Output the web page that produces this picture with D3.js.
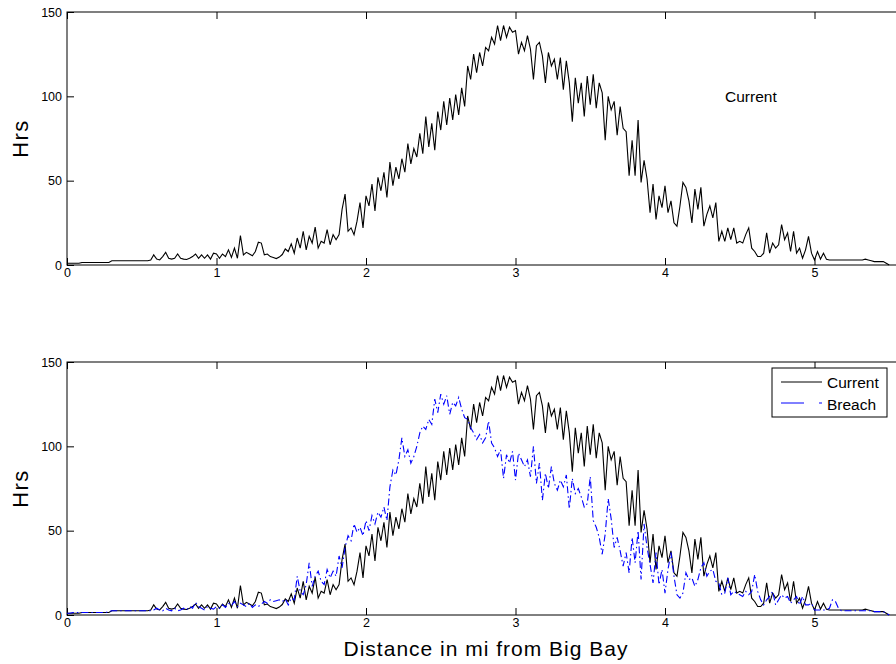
<!DOCTYPE html>
<html>
<head>
<meta charset="utf-8">
<script src="https://cdn.jsdelivr.net/npm/d3@7"></script>
<style>
  body { margin: 0; background: #fff; }
  svg { display: block; }
  text { font-family: "Liberation Sans", Arial, sans-serif; fill: #000; }
</style>
</head>
<body>
<svg id="screen" width="896" height="664"></svg>
<script>
const screenEl = document.querySelector("#screen");

//data: hours every 0.02 mi from 0 to 5.5
const step = 0.02;
const current = [
  1,1,1,1,1,1.5,1.5,1.5,1.5,1.5,
  1.5,1.5,1.5,1.5,1.5,2.5,2.5,2.5,2.5,2.5,
  2.5,2.5,2.5,2.5,2.5,2.5,2.5,2.5,3,6,
  3.5,3,5,7.5,4,3.5,4,6.5,4,3.5,
  3.3,4,5,6.5,4,6,4,6,3.5,7,
  6.5,4,6.5,5,9,4.5,10,4,17.5,6,
  7.5,6.5,5.5,8,13.5,13,6,6.5,5,4.5,
  3.8,4.7,6.2,9.5,8,12.5,7,16,10,20,
  9,17,13,22.5,10,14,13,21,12,18,
  15,18,33,42,20,22,18,26,37,22,
  41,35,48,32,52,44,55,40,61,47,
  58,51,63,55,72,60,69,64,78,66,
  88,70,84,68,91,80,97,83,99,86,
  101,89,105,94,118,110,125,114,126,118,
  129,127,135,131,142,133,142,135,141,138,
  139,125,132,127,136,128,110,130,132,124,
  108,126,118,122,110,123,104,121,108,85,
  111,96,108,88,112,95,113,93,108,102,
  74,100,92,97,77,94,81,79,53,74,
  53,86,49,62,51,31,48,27,41,34,
  47,31,38,25,23,35,49,46,38,25,
  45,33,46,23,30,35,28,37,14,20,
  14,22,15,22,13,14,13,18,22,10,
  8,5,5,7,19,7,13,10,12,24,
  15,19,8,20,7,10,4,9,17,7,
  3,8,3.5,7,3.4,3,3,3,3,3,
  3,3,3,3,3,3,3,3.5,3,2.5,
  2,2,2,2,1,0
];
const breach = [
  1,1,1.5,1.5,1.5,1.5,1.5,1.5,1.5,1.5,
  1.5,1.5,1.5,1.5,2,2.5,2.5,2.5,2.5,2.5,
  2.5,2.5,2.5,2.5,2.5,2.5,2.5,2.5,2.5,3,
  4,3,2.5,4,3,2.5,4,2.5,3,4,
  3,5,4,7.5,5,4,3,5,4,3.5,
  5,4,6,4.5,7,5.5,8,5,7,6,
  5,7,4.5,6,5,6.5,8,7,9,8,
  8.5,9,8,9.5,6,10,9,23,14,12,
  18,31,17,23,26,20,18,27,22,26,
  23,35,28,40,47,44,54,49,52,47,
  56,50,59,54,61,58,64,56,76,86,
  83,92,105,94,98,90,94,100,108,112,
  110,116,113,128,120,131,125,130,119,126,
  124,129,122,117,116,111,108,104,107,102,
  105,115,102,99,94,98,81,95,90,97,
  80,96,92,88,92,82,100,78,90,68,
  84,75,88,78,74,80,76,83,63,81,
  72,75,70,64,66,82,56,52,46,36,
  48,69,57,40,46,38,29,37,25,46,
  31,50,21,54,40,30,19,37,18,27,
  13,27,37,23,12,10,13,25,21,22,
  17,21,28,31,23,26,27,20,19,12,
  13,22,12,14,13,12,11,14,12,14,
  24,14,9,6,9,11,14,6,9,12,
  10,11,7,9,11,6,11,6,6,7,
  3,3,3,3,3,4,9,8,4,2.5,
  2.5,2.5,2.5,2.5,2.5,2.5,2.5,2.5,2.5,2.5,
  2,2,2,2,1,0
];
const xTicks = [0,1,2,3,4,5];
const yTicks = [0,50,100,150];
const seriesNames = ["Current","Breach"];

//settings
const left = 67, right = 67 + 5.6*149.5;
const panels = [[12,265],[362,615]];
const tickLen = 7;

var x = d3.scaleLinear().domain([0,5.6]).range([left,right]);
var svg = d3.select(screenEl);

function drawPanel(top, bottom){
    var y = d3.scaleLinear().domain([0,150]).range([bottom,top]);
    var g = svg.append("g");

    g.append("g").attr("transform","translate(0,"+bottom+")")
    .call(d3.axisBottom(x).tickValues(xTicks).tickSizeInner(-tickLen).tickSizeOuter(0).tickPadding(3).tickFormat(d3.format("d")));
    g.append("g").attr("transform","translate(0,"+top+")")
    .call(d3.axisTop(x).tickValues(xTicks).tickSizeInner(-tickLen).tickSizeOuter(0).tickFormat(""));
    g.append("g").attr("transform","translate("+left+",0)")
    .call(d3.axisLeft(y).tickValues(yTicks).tickSizeInner(-tickLen).tickSizeOuter(0).tickPadding(5));

    g.selectAll(".domain").remove();
    g.selectAll(".tick line").attr("stroke","#000");
    g.selectAll(".tick text").attr("font-size",12.5).attr("font-family","Liberation Sans, Arial, sans-serif");

    g.append("rect").attr("x",left).attr("y",top)
    .attr("width",right-left).attr("height",bottom-top)
    .attr("fill","none").attr("stroke","#000").attr("stroke-width",1);

    g.append("text").attr("transform","translate(28,"+((top+bottom)/2)+") rotate(-90)")
    .attr("text-anchor","middle").attr("font-size",22).attr("letter-spacing",1.5).text("Hrs");

    return {g:g, y:y};
}

function line(y){
    return d3.line().x((d,i)=>x(i*step)).y(d=>y(d));
}

//Top panel
var p1 = drawPanel(panels[0][0],panels[0][1]);
p1.g.append("path").datum(current).attr("d",line(p1.y))
.attr("fill","none").attr("stroke","#000").attr("stroke-width",1.1);
p1.g.append("text").attr("x",725).attr("y",102).attr("font-size",15.5).text(seriesNames[0]);

//Bottom panel
var p2 = drawPanel(panels[1][0],panels[1][1]);
p2.g.append("path").datum(current).attr("d",line(p2.y))
.attr("fill","none").attr("stroke","#000").attr("stroke-width",1.1);
p2.g.append("path").datum(breach).attr("d",line(p2.y))
.attr("fill","none").attr("stroke","#0000ff").attr("stroke-width",1.1)
.attr("stroke-dasharray","7,3,1.5,3");

//legend
var leg = p2.g.append("g");
leg.append("rect").attr("x",772).attr("y",368).attr("width",115).attr("height",49)
.attr("fill","#fff").attr("stroke","#000").attr("stroke-width",1);
leg.append("line").attr("x1",781).attr("x2",822).attr("y1",382).attr("y2",382)
.attr("stroke","#000").attr("stroke-width",1);
leg.append("line").attr("x1",781).attr("x2",822).attr("y1",403).attr("y2",403)
.attr("stroke","#0000ff").attr("stroke-width",1).attr("stroke-dasharray","23,15,3");
leg.append("text").attr("x",827).attr("y",388).attr("font-size",15.5).text(seriesNames[0]);
leg.append("text").attr("x",827).attr("y",410).attr("font-size",15.5).text(seriesNames[1]);

//x label
svg.append("text").attr("x",486).attr("y",656).attr("text-anchor","middle")
.attr("font-size",21).attr("letter-spacing",1).text("Distance in mi from Big Bay");
</script>
</body>
</html>
